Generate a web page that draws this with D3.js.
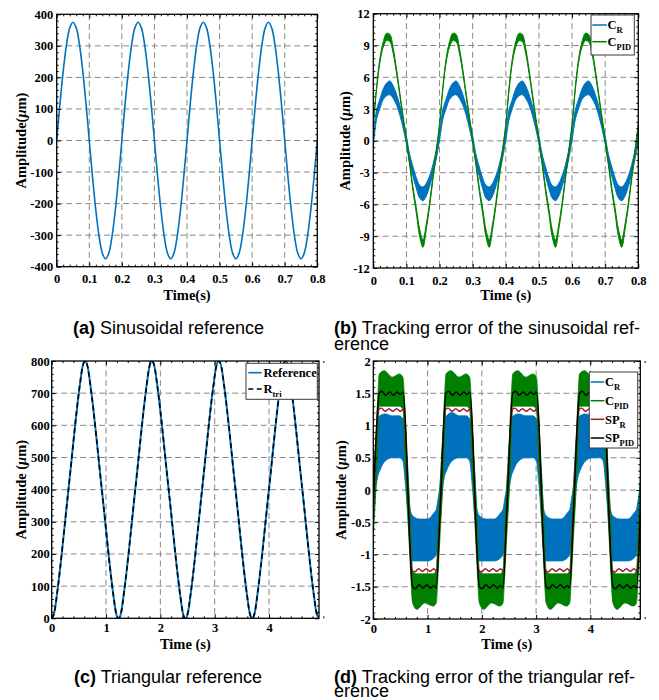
<!DOCTYPE html>
<html><head><meta charset="utf-8">
<script src="https://cdn.jsdelivr.net/npm/d3@7"></script>
<style>html,body{margin:0;padding:0;background:#fff;}svg{display:block;}</style>
</head><body>
<script>
// ================= DATA =================
// (a) + (b) shared time grid (s)
const sinTime = [0,0.01,0.02,0.03,0.04,0.05,0.06,0.07,0.08,0.09,0.10,0.11,0.12,0.13,0.14,0.15,0.16,0.17,0.18,0.19,
0.20,0.21,0.22,0.23,0.24,0.25,0.26,0.27,0.28,0.29,0.30,0.31,0.32,0.33,0.34,0.35,0.36,0.37,0.38,0.39,
0.40,0.41,0.42,0.43,0.44,0.45,0.46,0.47,0.48,0.49,0.50,0.51,0.52,0.53,0.54,0.55,0.56,0.57,0.58,0.59,
0.60,0.61,0.62,0.63,0.64,0.65,0.66,0.67,0.68,0.69,0.70,0.71,0.72,0.73,0.74,0.75,0.76,0.77,0.78,0.79,0.80];
// (a) sinusoidal reference (um)
const sinRef = [0,116,220,303,357,375,357,303,220,116,0,-116,-220,-303,-357,-375,-357,-303,-220,-116,
0,116,220,303,357,375,357,303,220,116,0,-116,-220,-303,-357,-375,-357,-303,-220,-116,
0,116,220,303,357,375,357,303,220,116,0,-116,-220,-303,-357,-375,-357,-303,-220,-116,
0,116,220,303,357,375,357,303,220,116,0,-116,-220,-303,-357,-375,-357,-303,-220,-116,0];
// (b) tracking error, centre and noise half-band (um)
const bCR = [-0.3,2.5,3.5,4.4,4.85,5.0,4.6,3.9,2.9,1.6,0.1,-1.7,-2.9,-4.0,-4.8,-5.0,-4.6,-3.8,-2.7,-1.3,
0.4,2.5,3.5,4.4,4.85,5.0,4.6,3.9,2.9,1.6,0.1,-1.7,-2.9,-4.0,-4.8,-5.0,-4.6,-3.8,-2.7,-1.3,
0.4,2.5,3.5,4.4,4.85,5.0,4.6,3.9,2.9,1.6,0.1,-1.7,-2.9,-4.0,-4.8,-5.0,-4.6,-3.8,-2.7,-1.3,
0.4,2.5,3.5,4.4,4.85,5.0,4.6,3.9,2.9,1.6,0.1,-1.7,-2.9,-4.0,-4.8,-5.0,-4.6,-3.8,-2.7,-1.3,0.2];
const bCRBand = [0.35,0.45,0.45,0.5,0.6,0.65,0.6,0.5,0.45,0.4,0.35,0.4,0.45,0.5,0.6,0.65,0.6,0.5,0.45,0.4,
0.35,0.45,0.45,0.5,0.6,0.65,0.6,0.5,0.45,0.4,0.35,0.4,0.45,0.5,0.6,0.65,0.6,0.5,0.45,0.4,
0.35,0.45,0.45,0.5,0.6,0.65,0.6,0.5,0.45,0.4,0.35,0.4,0.45,0.5,0.6,0.65,0.6,0.5,0.45,0.4,
0.35,0.45,0.45,0.5,0.6,0.65,0.6,0.5,0.45,0.4,0.35,0.4,0.45,0.5,0.6,0.65,0.6,0.5,0.45,0.4,0.35];
const bCPID = [1.5,5.0,7.6,9.1,9.8,9.7,8.5,6.6,4.4,2.2,0.0,-2.2,-4.6,-6.6,-8.7,-9.7,-8.1,-6.0,-3.5,-1.0,
1.5,5.0,7.6,9.1,9.8,9.7,8.5,6.6,4.4,2.2,0.0,-2.2,-4.6,-6.6,-8.7,-9.7,-8.1,-6.0,-3.5,-1.0,
1.5,5.0,7.6,9.1,9.8,9.7,8.5,6.6,4.4,2.2,0.0,-2.2,-4.6,-6.6,-8.7,-9.7,-8.1,-6.0,-3.5,-1.0,
1.5,5.0,7.6,9.1,9.8,9.7,8.5,6.6,4.4,2.2,0.0,-2.2,-4.6,-6.6,-8.7,-9.7,-8.1,-6.0,-3.5,-1.0,1.5];
const bCPIDBand = [0.15,0.15,0.2,0.25,0.35,0.35,0.25,0.2,0.15,0.15,0.15,0.15,0.2,0.25,0.35,0.35,0.25,0.2,0.15,0.15,
0.15,0.15,0.2,0.25,0.35,0.35,0.25,0.2,0.15,0.15,0.15,0.15,0.2,0.25,0.35,0.35,0.25,0.2,0.15,0.15,
0.15,0.15,0.2,0.25,0.35,0.35,0.25,0.2,0.15,0.15,0.15,0.15,0.2,0.25,0.35,0.35,0.25,0.2,0.15,0.15,
0.15,0.15,0.2,0.25,0.35,0.35,0.25,0.2,0.15,0.15,0.15,0.15,0.2,0.25,0.35,0.35,0.25,0.2,0.15,0.15,0.15];
// (c) triangular reference
const triTime = [0,0.049,0.098,0.308,0.517,0.566,0.615,0.664,0.713,0.923,1.132,1.181,
1.23,1.279,1.328,1.538,1.747,1.796,1.845,1.894,1.943,2.153,2.362,2.411,
2.46,2.509,2.558,2.768,2.977,3.026,3.075,3.124,3.173,3.383,3.592,3.641,
3.69,3.739,3.788,3.998,4.207,4.256,4.305,4.354,4.403,4.613,4.822,4.871,4.92];
const triRef = [0,19,76,400,724,781,800,781,724,400,76,19,
0,19,76,400,724,781,800,781,724,400,76,19,
0,19,76,400,724,781,800,781,724,400,76,19,
0,19,76,400,724,781,800,781,724,400,76,19,0];
const triRtri = [0,19,76,400,724,781,800,781,724,400,76,19,
0,19,76,400,724,781,800,781,724,400,76,19,
0,19,76,400,724,781,800,781,724,400,76,19,
0,19,76,400,724,781,800,781,724,400,76,19,0];
// (d) tracking error of triangular reference
const cRTime = [0,0.04,0.08,0.12,0.22,0.35,0.48,0.545,0.59,0.635,0.68,0.725,0.85,1.00,1.12,1.16,1.19,
1.23,1.27,1.31,1.35,1.45,1.58,1.71,1.775,1.82,1.865,1.91,1.955,2.08,2.23,2.35,2.39,2.42,
2.46,2.50,2.54,2.58,2.68,2.81,2.94,3.005,3.05,3.095,3.14,3.185,3.31,3.46,3.58,3.62,3.65,
3.69,3.73,3.77,3.81,3.91,4.04,4.17,4.235,4.28,4.325,4.37,4.415,4.54,4.69,4.81,4.85,4.88,4.92];
const cRUpper = [0.1,0.7,1.1,1.15,1.18,1.15,1.15,1.1,0.85,0.3,-0.3,-0.4,-0.45,-0.45,-0.35,-0.3,-0.15,
0.1,0.7,1.1,1.15,1.2,1.15,1.15,1.1,0.85,0.3,-0.3,-0.4,-0.45,-0.45,-0.35,-0.3,-0.15,
0.1,0.7,1.1,1.15,1.18,1.15,1.15,1.1,0.85,0.3,-0.3,-0.4,-0.45,-0.45,-0.35,-0.3,-0.15,
0.1,0.7,1.1,1.15,1.18,1.15,1.15,1.1,0.85,0.3,-0.3,-0.4,-0.45,-0.45,-0.35,-0.3,-0.15,0.1];
const cRLower = [-0.55,-0.05,0.2,0.3,0.45,0.5,0.5,0.45,0.1,-0.4,-0.95,-1.1,-1.1,-1.1,-1.05,-1.0,-0.85,
-0.55,-0.05,0.2,0.3,0.45,0.5,0.5,0.45,0.1,-0.4,-0.95,-1.1,-1.1,-1.1,-1.05,-1.0,-0.85,
-0.55,-0.05,0.2,0.3,0.45,0.5,0.5,0.45,0.1,-0.4,-0.95,-1.1,-1.1,-1.1,-1.05,-1.0,-0.85,
-0.55,-0.05,0.2,0.3,0.45,0.5,0.5,0.45,0.1,-0.4,-0.95,-1.1,-1.1,-1.1,-1.05,-1.0,-0.85,-0.55];
const cPidTime = [0,0.04,0.08,0.11,0.20,0.35,0.48,0.545,0.59,0.635,0.68,0.725,0.80,0.95,1.10,1.16,1.19,
1.23,1.27,1.31,1.34,1.43,1.58,1.71,1.775,1.82,1.865,1.91,1.955,2.03,2.18,2.33,2.39,2.42,
2.46,2.50,2.54,2.57,2.66,2.81,2.94,3.005,3.05,3.095,3.14,3.185,3.26,3.41,3.56,3.62,3.65,
3.69,3.73,3.77,3.80,3.89,4.04,4.17,4.235,4.28,4.325,4.37,4.415,4.49,4.64,4.79,4.85,4.88,4.92];
const cPidUpper = [0.05,0.65,1.4,1.8,1.85,1.75,1.8,1.75,1.15,0.35,-0.4,-1.25,-1.3,-1.3,-1.3,-1.25,-0.65,
0.05,0.65,1.4,1.8,1.85,1.75,1.8,1.75,1.15,0.35,-0.4,-1.25,-1.3,-1.3,-1.3,-1.25,-0.65,
0.05,0.65,1.4,1.8,1.85,1.75,1.8,1.75,1.15,0.35,-0.4,-1.25,-1.3,-1.3,-1.3,-1.25,-0.65,
0.05,0.65,1.4,1.8,1.85,1.75,1.8,1.75,1.15,0.35,-0.4,-1.25,-1.3,-1.3,-1.3,-1.25,-0.65,0.2];
const cPidLower = [-0.7,-0.1,0.7,1.3,1.3,1.3,1.3,1.25,0.4,-0.35,-1.15,-1.75,-1.85,-1.75,-1.8,-1.75,-1.35,
-0.7,-0.1,0.7,1.3,1.3,1.3,1.3,1.25,0.4,-0.35,-1.15,-1.75,-1.85,-1.75,-1.8,-1.75,-1.35,
-0.7,-0.1,0.7,1.3,1.3,1.3,1.3,1.25,0.4,-0.35,-1.15,-1.75,-1.85,-1.75,-1.8,-1.75,-1.35,
-0.7,-0.1,0.7,1.3,1.3,1.3,1.3,1.25,0.4,-0.35,-1.15,-1.75,-1.85,-1.75,-1.8,-1.75,-1.35,-0.7];
const spRTime = [0,0.10,0.15,0.22,0.29,0.36,0.43,0.50,0.555,0.715,0.765,0.835,0.905,0.975,1.045,1.115,1.17,
1.23,1.33,1.38,1.45,1.52,1.59,1.66,1.73,1.785,1.945,1.995,2.065,2.135,2.205,2.275,2.345,2.40,
2.46,2.56,2.61,2.68,2.75,2.82,2.89,2.96,3.015,3.175,3.225,3.295,3.365,3.435,3.505,3.575,3.63,
3.69,3.79,3.84,3.91,3.98,4.05,4.12,4.19,4.245,4.405,4.455,4.525,4.595,4.665,4.735,4.805,4.86,4.92];
const spR = [-0.2,1.25,1.27,1.22,1.26,1.22,1.26,1.22,1.26,-1.25,-1.27,-1.22,-1.26,-1.22,-1.26,-1.22,-1.26,
-0.3,1.25,1.27,1.22,1.26,1.22,1.26,1.22,1.26,-1.25,-1.27,-1.22,-1.26,-1.22,-1.26,-1.22,-1.26,
-0.3,1.25,1.27,1.22,1.26,1.22,1.26,1.22,1.26,-1.25,-1.27,-1.22,-1.26,-1.22,-1.26,-1.22,-1.26,
-0.3,1.25,1.27,1.22,1.26,1.22,1.26,1.22,1.26,-1.25,-1.27,-1.22,-1.26,-1.22,-1.26,-1.22,-1.26,-0.3];
const spPidTime = [0,0.11,0.16,0.23,0.30,0.37,0.44,0.50,0.545,0.725,0.775,0.845,0.915,0.985,1.055,1.115,1.16,
1.23,1.34,1.39,1.46,1.53,1.60,1.67,1.73,1.775,1.955,2.005,2.075,2.145,2.215,2.285,2.345,2.39,
2.46,2.57,2.62,2.69,2.76,2.83,2.90,2.96,3.005,3.185,3.235,3.305,3.375,3.445,3.515,3.575,3.62,
3.69,3.80,3.85,3.92,3.99,4.06,4.13,4.19,4.235,4.415,4.465,4.535,4.605,4.675,4.745,4.805,4.85,4.92];
const spPid = [-0.25,1.50,1.53,1.47,1.52,1.47,1.52,1.48,1.52,-1.50,-1.53,-1.47,-1.52,-1.47,-1.52,-1.48,-1.52,
-0.33,1.50,1.53,1.47,1.52,1.47,1.52,1.48,1.52,-1.50,-1.53,-1.47,-1.52,-1.47,-1.52,-1.48,-1.52,
-0.33,1.50,1.53,1.47,1.52,1.47,1.52,1.48,1.52,-1.50,-1.53,-1.47,-1.52,-1.47,-1.52,-1.48,-1.52,
-0.33,1.50,1.53,1.47,1.52,1.47,1.52,1.48,1.52,-1.50,-1.53,-1.47,-1.52,-1.47,-1.52,-1.48,-1.52,-0.33];

// tick values
const aXTicks = [0,0.1,0.2,0.3,0.4,0.5,0.6,0.7,0.8];
const aYTicks = [-400,-300,-200,-100,0,100,200,300,400];
const bYTicks = [-12,-9,-6,-3,0,3,6,9,12];
const cXTicks = [0,1,2,3,4];
const cYTicks = [0,100,200,300,400,500,600,700,800];
const dYTicks = [-2,-1.5,-1,-0.5,0,0.5,1,1.5,2];

// legend labels [main, subscript]
const bLegend = [["C","R"],["C","PID"]];
const cLegend = [["Reference",""],["R","tri"]];
const dLegend = [["C","R"],["C","PID"],["SP","R"],["SP","PID"]];

// ================= DRAWING =================
const SERIF = "'Liberation Serif','Times New Roman',Times,serif";
const SANS = "'Liberation Sans',Arial,Helvetica,sans-serif";
const BLUE = "#0072BD", GREEN = "#008000", RED = "#A2142F", BLACK = "#000";

const svg = d3.select("body").append("svg").attr("width",659).attr("height",700);
const defs = svg.append("defs");
svg.append("rect").attr("width",659).attr("height",700).attr("fill","#fff");

function range(lo,hi,step){ const out=[]; const n=Math.round((hi-lo)/step); for(let i=0;i<=n;i++) out.push(+(lo+i*step).toFixed(6)); return out; }

function panel(o){
  const x = d3.scaleLinear().domain(o.xd).range([o.l,o.r]);
  const y = d3.scaleLinear().domain(o.yd).range([o.b,o.t]);
  const cid = "clip"+o.id;
  defs.append("clipPath").attr("id",cid).append("rect")
    .attr("x",o.l).attr("y",o.t).attr("width",o.r-o.l).attr("height",o.b-o.t);
  const gg = svg.append("g").attr("stroke","#888").attr("stroke-width",1).attr("stroke-dasharray","6,3.5").attr("fill","none");
  gg.selectAll("line.gx").data(o.xt.filter(v=>x(v)>o.l+1 && x(v)<o.r-1)).join("line").attr("class","gx")
    .attr("x1",d=>x(d)).attr("x2",d=>x(d)).attr("y1",o.t).attr("y2",o.b);
  gg.selectAll("line.gy").data(o.yt.filter(v=>y(v)<o.b-1 && y(v)>o.t+1)).join("line").attr("class","gy")
    .attr("y1",d=>y(d)).attr("y2",d=>y(d)).attr("x1",o.l).attr("x2",o.r);
  const data = svg.append("g").attr("clip-path",`url(#${cid})`);
  return {x,y,data,o};
}

function finish(P){
  const o=P.o, x=P.x, y=P.y;
  const xm = range(o.xd[0],o.xd[1],o.xms).filter(v=>!o.xt.some(t=>Math.abs(t-v)<1e-9));
  const ym = range(o.yd[0],o.yd[1],o.yms).filter(v=>!o.yt.some(t=>Math.abs(t-v)<1e-9));
  const fmt = d=>String(d);
  const ax=(gen,tx,ty)=>{ const g=svg.append("g").attr("transform",`translate(${tx},${ty})`).call(gen);
    g.select(".domain").remove(); g.selectAll("line").attr("stroke","#000").attr("stroke-width",1);
    g.selectAll("text").attr("font-family",SERIF).attr("font-weight","bold").attr("font-size",12.5).attr("fill","#000");
    return g; };
  ax(d3.axisBottom(x).tickValues(o.xt).tickSize(-4).tickPadding(o.xpad).tickFormat(fmt),0,o.b);
  ax(d3.axisBottom(x).tickValues(xm).tickSize(-2).tickFormat(""),0,o.b);
  ax(d3.axisTop(x).tickValues(o.xt).tickSize(-4).tickFormat(""),0,o.t);
  ax(d3.axisTop(x).tickValues(xm).tickSize(-2).tickFormat(""),0,o.t);
  ax(d3.axisLeft(y).tickValues(o.yt).tickSize(-4).tickPadding(o.ypad).tickFormat(fmt),o.l,0);
  ax(d3.axisLeft(y).tickValues(ym).tickSize(-2).tickFormat(""),o.l,0);
  ax(d3.axisRight(y).tickValues(o.yt).tickSize(-4).tickFormat(""),o.r,0);
  ax(d3.axisRight(y).tickValues(ym).tickSize(-2).tickFormat(""),o.r,0);
  svg.append("rect").attr("x",o.l).attr("y",o.t).attr("width",o.r-o.l).attr("height",o.b-o.t)
    .attr("fill","none").attr("stroke","#000").attr("stroke-width",1.3);
  svg.append("text").attr("x",(o.l+o.r)/2).attr("y",o.xlaby).attr("text-anchor","middle")
    .attr("font-family",SERIF).attr("font-weight","bold").attr("font-size",14.5).text(o.xlab);
  const t = svg.append("text").attr("transform",`translate(${o.ylabx},${(o.t+o.b)/2}) rotate(-90)`)
    .attr("text-anchor","middle").attr("dy","0.35em")
    .attr("font-family",SERIF).attr("font-weight","bold").attr("font-size",14.5);
  t.append("tspan").text(o.ylabPre);
  t.append("tspan").attr("font-style","italic").text("\u03bc");
  t.append("tspan").text("m)");
}

function legend(box, labels, styles){
  const g = svg.append("g");
  g.append("rect").attr("x",box.x).attr("y",box.y).attr("width",box.w).attr("height",box.h)
    .attr("fill","#fff").attr("stroke","#3a3a3a").attr("stroke-width",1);
  labels.forEach((lab,i)=>{
    const yy = box.rows[i], st = styles[i];
    g.append("line").attr("x1",box.lx0).attr("x2",box.lx1).attr("y1",yy).attr("y2",yy)
      .attr("stroke",st.color).attr("stroke-width",st.w).attr("stroke-dasharray",st.dash||null);
    const t = g.append("text").attr("x",box.tx).attr("y",yy+4.2)
      .attr("font-family",SERIF).attr("font-weight","bold").attr("font-size",box.fs);
    t.append("tspan").text(lab[0]);
    if(lab[1]) t.append("tspan").attr("font-size",box.subfs).attr("dy",box.subdy).text(lab[1]);
  });
}

// caption: one text element; optional wrapped second line as a tspan
function caption(x,y,anchor,bold,rest,line2,lineGap){
  const t = svg.append("text").attr("x",x).attr("y",y).attr("text-anchor",anchor)
    .attr("font-family",SANS).attr("font-size",18).attr("fill","#000");
  t.append("tspan").attr("font-weight","bold").text(bold);
  t.append("tspan").text(rest);
  if(line2) t.append("tspan").attr("x",x).attr("dy",lineGap).text(line2);
}

// ---------- (a) ----------
{
  const P = panel({id:"a",l:56.7,r:317.3,t:14.3,b:266.7,xd:[0,0.8],yd:[-400,400],xt:aXTicks,yt:aYTicks});
  P.data.append("path").datum(sinTime.map((t,i)=>[t,sinRef[i]]))
    .attr("fill","none").attr("stroke",BLUE).attr("stroke-width",1.6)
    .attr("d",d3.line().x(d=>P.x(d[0])).y(d=>P.y(d[1])).curve(d3.curveCatmullRom));
  Object.assign(P.o,{xms:0.02,yms:20,xpad:7,ypad:3.5,xlab:"Time(s)",xlaby:299.5,ylabx:20.5,ylabPre:"Amplitude("});
  finish(P);
}
// ---------- (b) ----------
{
  const P = panel({id:"b",l:373.3,r:638.3,t:13.7,b:268,xd:[0,0.8],yd:[-12,12],xt:aXTicks,yt:bYTicks});
  const band=(c,hw,col)=>{
    const rows = sinTime.map((t,i)=>[t,c[i],hw[i]]);
    P.data.append("path").datum(rows).attr("fill",col).attr("stroke",col).attr("stroke-width",1)
      .attr("d",d3.area().x(d=>P.x(d[0])).y0(d=>P.y(d[1]-d[2])).y1(d=>P.y(d[1]+d[2])).curve(d3.curveCatmullRom));
  };
  band(bCR,bCRBand,BLUE);
  band(bCPID,bCPIDBand,GREEN);
  Object.assign(P.o,{xms:0.02,yms:0.6,xpad:8,ypad:3.5,xlab:"Time (s)",xlaby:299.5,ylabx:345.3,ylabPre:"Amplitude ("});
  finish(P);
  legend({x:591,y:15,w:43.3,h:40,rows:[25,41.7],lx0:592.3,lx1:606.7,tx:607.5,fs:12.5,subfs:8.5,subdy:4},
    bLegend,[{color:BLUE,w:1.5},{color:GREEN,w:1.5}]);
}
// ---------- (c) ----------
{
  const P = panel({id:"c",l:51.7,r:319,t:361,b:618.3,xd:[0,4.92],yd:[0,800],xt:cXTicks,yt:cYTicks});
  const ln = d3.line().x(d=>P.x(d[0])).y(d=>P.y(d[1])).curve(d3.curveMonotoneX);
  P.data.append("path").datum(triTime.map((t,i)=>[t,triRef[i]])).attr("fill","none")
    .attr("stroke",BLUE).attr("stroke-width",2).attr("d",ln);
  P.data.append("path").datum(triTime.map((t,i)=>[t,triRtri[i]])).attr("fill","none")
    .attr("stroke",BLACK).attr("stroke-width",1.6).attr("stroke-dasharray","5,3.5").attr("d",ln);
  Object.assign(P.o,{xms:0.2,yms:20,xpad:4.5,ypad:2,xlab:"Time (s)",xlaby:649,ylabx:20.5,ylabPre:"Amplitude ("});
  finish(P);
  legend({x:246,y:363.3,w:71.3,h:36,rows:[372.7,389],lx0:248.3,lx1:261.7,tx:263.5,fs:12.5,subfs:8.5,subdy:4},
    cLegend,[{color:BLUE,w:1.6},{color:BLACK,w:1.6,dash:"5,3.5"}]);
}
// ---------- (d) ----------
{
  const P = panel({id:"d",l:373.3,r:640.3,t:361,b:619,xd:[0,4.92],yd:[-2,2],xt:cXTicks,yt:dYTicks});
  const ar=(ts,up,lo,col)=>P.data.append("path").datum(ts.map((t,i)=>[t,lo[i],up[i]]))
    .attr("fill",col).attr("stroke",col).attr("stroke-width",0.8)
    .attr("d",d3.area().x(d=>P.x(d[0])).y0(d=>P.y(d[1])).y1(d=>P.y(d[2])).curve(d3.curveMonotoneX));
  ar(cRTime,cRUpper,cRLower,BLUE);
  ar(cPidTime,cPidUpper,cPidLower,GREEN);
  const ln = d3.line().x(d=>P.x(d[0])).y(d=>P.y(d[1])).curve(d3.curveMonotoneX);
  P.data.append("path").datum(spRTime.map((t,i)=>[t,spR[i]])).attr("fill","none")
    .attr("stroke",RED).attr("stroke-width",1.4).attr("d",ln);
  P.data.append("path").datum(spPidTime.map((t,i)=>[t,spPid[i]])).attr("fill","none")
    .attr("stroke",BLACK).attr("stroke-width",1.4).attr("d",ln);
  Object.assign(P.o,{xms:0.2,yms:0.1,xpad:5.5,ypad:2.5,xlab:"Time (s)",xlaby:649,ylabx:341.3,ylabPre:"Amplitude ("});
  finish(P);
  legend({x:589.3,y:372,w:48.4,h:76,rows:[382,400.7,419.3,438],lx0:590.7,lx1:604.3,tx:605,fs:12.5,subfs:8.5,subdy:4},
    dLegend,[{color:BLUE,w:1.5},{color:GREEN,w:1.5},{color:RED,w:1.5},{color:BLACK,w:1.5}]);
}

// ---------- captions ----------
caption(168.5,333.5,"middle","(a)"," Sinusoidal reference");
caption(334,333.5,"start","(b)"," Tracking error of the sinusoidal ref-","erence",16.5);
caption(168,682.5,"middle","(c)"," Triangular reference");
caption(334,682.5,"start","(d)"," Tracking error of the triangular ref-","erence",14.5);
</script>
</body></html>
